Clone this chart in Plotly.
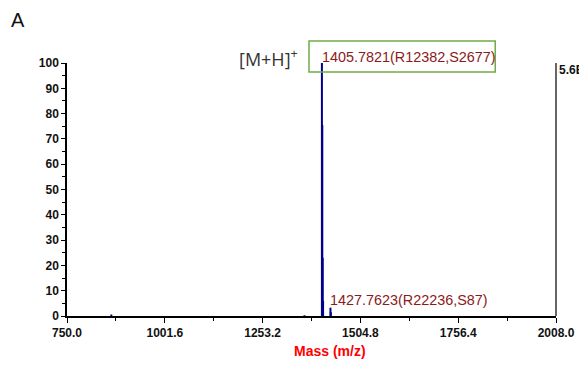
import plotly.graph_objects as go

# ---- data ----
masses = [864.0, 1361.0, 1405.7821, 1406.785, 1407.788, 1408.79, 1427.7623, 1428.765]
intensities = [0.6, 0.3, 100.0, 75.5, 23.0, 6.0, 3.3, 1.5]
x_ticks = [750.0, 1001.6, 1253.2, 1504.8, 1756.4, 2008.0]
x_tick_labels = ["750.0", "1001.6", "1253.2", "1504.8", "1756.4", "2008.0"]
y_ticks = list(range(0, 101, 10))
peak_labels = {1405.7821: "1405.7821(R12382,S2677)", 1427.7623: "1427.7623(R22236,S87)"}

# stick spectrum built from data
sx, sy = [], []
for m, i in zip(masses, intensities):
    sx += [m, m, None]
    sy += [0, i, None]

fig = go.Figure()
fig.add_trace(go.Scatter(x=sx, y=sy, mode="lines",
                         line=dict(color="#00008B", width=2),
                         hoverinfo="skip", showlegend=False))

FONT = "Arial, Liberation Sans, sans-serif"
tickfont = dict(family=FONT, size=12, color="#111111")

# page body has an 8px offset; plot area target: x 67..558, y 63..316
fig.update_layout(
    width=579, height=357,
    margin=dict(l=59, r=29, t=55, b=49),
    paper_bgcolor="white", plot_bgcolor="white",
    showlegend=False,
    xaxis=dict(range=[750, 2008], tickvals=x_ticks, ticktext=["<b>%s</b>" % t for t in x_tick_labels],
               showgrid=False, zeroline=False, showline=True, linecolor="black", linewidth=1.5,
               ticks="outside", ticklen=5, tickwidth=1, tickcolor="black", tickfont=tickfont,
               minor=dict(tickvals=[(a + b) / 2 for a, b in zip(x_ticks[:-1], x_ticks[1:])],
                          ticks="outside", ticklen=3, tickcolor="black", tickwidth=1)),
    yaxis=dict(range=[0, 100], tickvals=y_ticks, ticktext=["<b>%d</b>" % v for v in y_ticks],
               showgrid=False, zeroline=False, showline=True, linecolor="black", linewidth=1.5,
               ticks="outside", ticklen=4, tickwidth=1, tickcolor="black", tickfont=tickfont,
               minor=dict(dtick=5, ticks="outside", ticklen=3, tickcolor="black", tickwidth=1)),
)

# right-hand frame line
fig.add_shape(type="line", xref="paper", yref="paper", x0=1, x1=1, y0=0, y1=1,
              line=dict(color="black", width=1.2))

# green box around main peak label
fig.add_shape(type="rect", xref="paper", yref="paper",
              x0=(310 - 67) / 491, x1=(497 - 67) / 491,
              y0=(316 - 72) / 253, y1=(316 - 41) / 253,
              line=dict(color="#70AD47", width=1.5), fillcolor="rgba(0,0,0,0)")

labfont = dict(family=FONT, size=14.4, color="#8B1A1A")
fig.add_annotation(x=1405.7821, y=(316 - 57) / 253, xref="x", yref="paper",
                   text=peak_labels[1405.7821], showarrow=False, xanchor="left", yanchor="middle",
                   xshift=-2, font=labfont)
fig.add_annotation(x=1427.7623, y=(316 - 300) / 253, xref="x", yref="paper",
                   text=peak_labels[1427.7623], showarrow=False, xanchor="left", yanchor="middle",
                   xshift=-2, font=labfont)

fig.add_annotation(x=(301 - 67) / 491, y=(316 - 58) / 253, xref="paper", yref="paper",
                   text="[M+H]<sup>+</sup>", showarrow=False, xanchor="right", yanchor="middle",
                   font=dict(family="Open Sans, sans-serif", size=18, color="#333333"))

fig.add_annotation(x=1.0, y=(316 - 70) / 253, xref="paper", yref="paper",
                   text="<b>5.6E+4</b>", showarrow=False, xanchor="left", yanchor="middle", xshift=1,
                   font=dict(family=FONT, size=12, color="#111111"))

fig.add_annotation(x=(331 - 67) / 491, y=(316 - 351) / 253, xref="paper", yref="paper",
                   text="<b>Mass (m/z)</b>", showarrow=False, xanchor="center", yanchor="middle",
                   font=dict(family=FONT, size=14, color="#FF0000"))

fig.add_annotation(x=(18 - 67) / 491, y=(316 - 20) / 253, xref="paper", yref="paper",
                   text="A", showarrow=False, xanchor="center", yanchor="middle",
                   font=dict(family=FONT, size=20, color="#111111"))

fig.write_html("out.html")
